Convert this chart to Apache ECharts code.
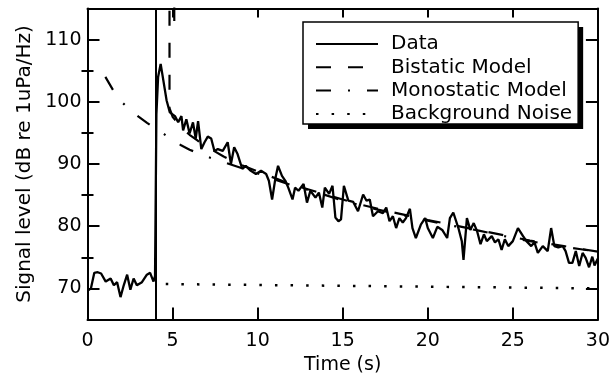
<!DOCTYPE html>
<html><head><meta charset="utf-8">
<script src="https://cdn.jsdelivr.net/npm/echarts@6/dist/echarts.min.js"></script>
<style>html,body{margin:0;padding:0;background:#fff}#c{width:613px;height:388px}</style>
</head><body><div id="c"></div>
<script>
// ---- data ----
const seriesNames = ['Data', 'Bistatic Model', 'Monostatic Model', 'Background Noise'];

const timeData = [0.0,0.2,0.4,0.6,0.8,1.07,1.36,1.55,1.74,1.94,2.13,2.33,2.52,2.71,2.9,3.2,3.49,3.68,3.88,3.97,
  4.05,4.15,4.3,4.46,4.65,4.84,5.14,5.33,5.52,5.62,5.81,6.0,6.2,6.36,6.5,6.69,6.88,7.07,7.27,7.46,7.66,7.95,
  8.24,8.43,8.62,8.82,9.1,9.3,9.6,9.9,10.2,10.5,10.66,10.85,11.05,11.2,11.43,11.63,11.8,12.05,12.2,12.4,12.7,
  12.9,13.1,13.4,13.6,13.8,13.95,14.2,14.4,14.57,14.75,14.9,15.07,15.33,15.62,15.9,16.2,16.4,16.59,16.78,17.07,
  17.36,17.56,17.75,17.95,18.14,18.33,18.53,18.72,18.95,19.1,19.3,19.6,19.85,20.0,20.3,20.56,20.85,21.14,21.3,
  21.5,21.8,22.0,22.1,22.3,22.5,22.7,22.9,23.1,23.3,23.47,23.76,23.95,24.15,24.34,24.53,24.73,25.0,25.3,25.6,
  25.8,26.08,26.27,26.47,26.76,27.05,27.25,27.44,27.67,27.93,28.1,28.3,28.5,28.7,28.9,29.1,29.28,29.48,29.67,29.8,30.0];
const levelData = [69.6,70.0,72.5,72.6,72.4,71.1,71.6,70.5,71.0,68.6,70.5,72.2,69.8,71.6,70.5,71.0,72.2,72.5,71.1,72.0,
  98.0,104.0,106.1,103.4,100.2,98.3,97.7,96.7,97.7,95.4,97.2,94.9,96.7,94.1,96.9,92.4,93.5,94.4,94.1,92.1,92.4,92.1,
  93.5,90.0,92.7,91.6,89.2,89.7,88.9,88.4,88.9,88.4,87.3,84.3,87.8,89.7,88.1,87.3,86.2,84.3,86.2,85.7,86.8,
  83.8,85.7,84.6,85.4,83.0,86.2,85.2,86.5,81.4,80.8,81.1,86.5,84.1,83.9,82.4,85.1,84.1,84.3,81.6,82.4,
  82.1,83.0,80.8,81.6,79.7,81.3,80.6,81.3,82.8,79.7,78.1,80.3,81.3,79.7,78.1,79.9,79.4,78.1,81.3,
  82.2,79.7,77.6,74.6,81.3,79.4,80.5,79.2,77.1,78.7,77.6,78.4,77.4,77.9,76.2,77.9,76.8,77.6,79.7,78.4,
  77.6,76.8,77.4,75.7,76.8,76.0,79.7,76.8,76.6,76.8,76.0,74.1,74.1,76.0,73.6,75.7,74.9,73.4,75.1,73.7,74.8];

const bistaticTime  = [5.1,5.1,4.82,4.82,5.0,5.5,6.0,6.5,7.0,8.0,9.0,10,12,14,16,18,20,22,24,26,28,30];
const bistaticLevel = [113,116,116,99,97.6,95.9,94.7,93.7,92.8,91.2,89.9,88.8,86.7,85.1,83.5,82.2,81.0,79.9,78.8,77.7,76.8,75.9];

const monostaticTime  = [1.05,1.5,2,2.5,3,3.5,4,4.5,5,5.5,6,7,8,9,10,11,12,13,14,15,16,17,18,19,20,21,22,23,24,25,26,27,28,29,30];
const monostaticLevel = [104.0,101.9,100.0,98.7,97.6,96.6,95.7,94.8,93.9,93.0,92.3,91.2,90.3,89.4,88.5,87.5,86.6,85.8,85.0,84.1,83.4,82.7,82.1,81.5,80.9,80.3,79.8,79.3,78.7,78.1,77.6,77.1,76.7,76.3,75.9];

const noiseTime  = [4.6, 30];
const noiseLevel = [70.7, 70.0];

const eventTime = 4;

const xTickLabels = [0, 5, 10, 15, 20, 25, 30];
const yMajorTicks = [70, 80, 90, 100, 110];
const yMinorTicks = [75, 85, 95, 105];

// ---- chart ----
const FONT = 'DejaVu Sans';
const zip = (a, b) => a.map((v, i) => [v, b[i]]);
const chart = echarts.init(document.getElementById('c'), null, {renderer: 'canvas'});

const axisLine = {show: true, onZero: false, lineStyle: {color: '#000', width: 2}};
const tickStyle = {color: '#000', width: 2};

const legendBase = {
  orient: 'vertical',
  itemWidth: 62, itemHeight: 14, itemGap: 3.3,
  padding: [12, 6, 0, 12],
  data: seriesNames,
  selectedMode: false
};

const option = {
  animation: false,
  backgroundColor: '#fff',
  grid: {left: 87.5, right: 11, top: 8.5, bottom: 68.5, containLabel: false},
  legend: [
    // drop shadow of the legend box
    Object.assign({}, legendBase, {
      left: 308, top: 27, z: 3, zlevel: 0,
      backgroundColor: '#000', borderWidth: 0,
      itemStyle: {opacity: 0}, lineStyle: {opacity: 0},
      textStyle: {fontSize: 20, fontFamily: FONT, color: '#000', padding: [0, 0, 0, 8]}
    }),
    Object.assign({}, legendBase, {
      left: 303, top: 22, z: 4, zlevel: 0,
      backgroundColor: '#fff', borderColor: '#000', borderWidth: 1.5,
      itemStyle: {opacity: 0, borderWidth: 0},
      textStyle: {fontSize: 20, fontFamily: FONT, color: '#000', padding: [0, 0, 0, 8]}
    })
  ],
  xAxis: [
    {type: 'value', position: 'bottom', min: 0, max: 30, interval: 5,
     axisLine: axisLine,
     axisTick: {show: true, inside: true, length: 12, lineStyle: tickStyle},
     axisLabel: {customValues: xTickLabels, color: '#000', fontSize: 19, fontFamily: FONT, margin: 12},
     splitLine: {show: false},
     name: 'Time (s)', nameLocation: 'middle', nameGap: 33,
     nameTextStyle: {color: '#000', fontSize: 19, fontFamily: FONT}},
    {type: 'value', position: 'top', min: 0, max: 30, interval: 5,
     axisLine: axisLine,
     axisTick: {show: true, inside: true, length: 9, lineStyle: tickStyle},
     axisLabel: {show: false}, splitLine: {show: false}}
  ],
  yAxis: [
    {type: 'value', position: 'left', min: 65, max: 115, interval: 5,
     axisLine: axisLine,
     axisTick: {show: true, inside: true, length: 12, lineStyle: tickStyle, customValues: yMajorTicks},
     axisLabel: {customValues: yMajorTicks, color: '#000', fontSize: 19, fontFamily: FONT, margin: 6},
     splitLine: {show: false},
     name: 'Signal level (dB re 1uPa/Hz)', nameLocation: 'middle', nameGap: 40,
     nameTextStyle: {color: '#000', fontSize: 20, fontFamily: FONT}},
    {type: 'value', position: 'left', min: 65, max: 115, interval: 5,
     axisLine: {show: false},
     axisTick: {show: true, inside: true, length: 6, lineStyle: tickStyle, customValues: yMinorTicks},
     axisLabel: {show: false}, splitLine: {show: false}},
    {type: 'value', position: 'right', min: 65, max: 115, interval: 5,
     axisLine: axisLine,
     axisTick: {show: true, inside: true, length: 12, lineStyle: tickStyle, customValues: yMajorTicks},
     axisLabel: {show: false}, splitLine: {show: false}},
    {type: 'value', position: 'right', min: 65, max: 115, interval: 5,
     axisLine: {show: false},
     axisTick: {show: true, inside: true, length: 6, lineStyle: tickStyle, customValues: yMinorTicks},
     axisLabel: {show: false}, splitLine: {show: false}}
  ],
  series: [
    {name: seriesNames[0], type: 'line', xAxisIndex: 0, yAxisIndex: 0,
     data: zip(timeData, levelData), symbol: 'none', showSymbol: false, clip: true,
     lineStyle: {color: '#000', width: 2.3}, itemStyle: {color: '#000'},
     markLine: {silent: true, symbol: 'none', label: {show: false},
       lineStyle: {color: '#000', width: 2, type: 'solid', opacity: 1},
       data: [{xAxis: eventTime}]}},
    {name: seriesNames[1], type: 'line', xAxisIndex: 0, yAxisIndex: 0,
     data: zip(bistaticTime, bistaticLevel), symbol: 'none', showSymbol: false, clip: true,
     lineStyle: {color: '#000', width: 2.2, type: [15, 17]}, itemStyle: {color: '#000'}},
    {name: seriesNames[2], type: 'line', xAxisIndex: 0, yAxisIndex: 0,
     data: zip(monostaticTime, monostaticLevel), symbol: 'none', showSymbol: false, clip: true,
     lineStyle: {color: '#000', width: 2.2, type: [15, 17, 2, 17]}, itemStyle: {color: '#000'}},
    {name: seriesNames[3], type: 'line', xAxisIndex: 0, yAxisIndex: 0,
     data: zip(noiseTime, noiseLevel), symbol: 'none', showSymbol: false, clip: true,
     lineStyle: {color: '#000', width: 2.5, type: [2.5, 13.1]}, itemStyle: {color: '#000'}}
  ]
};
chart.setOption(option);
</script>
</body></html>
